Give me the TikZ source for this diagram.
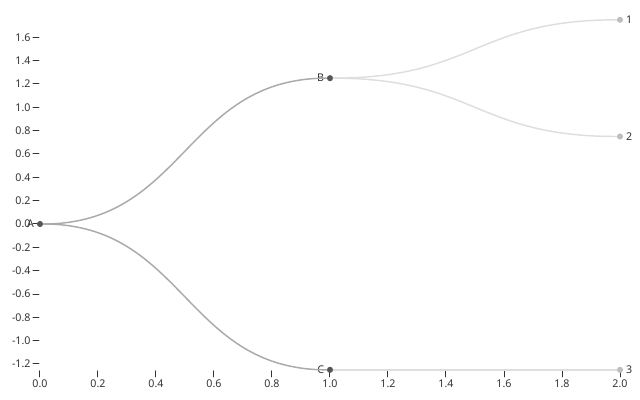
\documentclass[tikz,border=0pt]{standalone}
\usepackage{fontspec}
\setmainfont{Noto Sans}
\usetikzlibrary{calc}
\definecolor{linkInner}{RGB}{170,170,170}
\definecolor{linkOuter}{RGB}{222,222,222}
\definecolor{dotInner}{RGB}{85,85,85}
\definecolor{dotLeaf}{RGB}{190,190,190}
\definecolor{axisInk}{RGB}{51,51,51}

\begin{document}
\begin{tikzpicture}[
    x=217.5pt,y=87.5pt,
    line cap=round,
    line join=round,
    every node/.style={font=\fontsize{8pt}{9.6pt}\selectfont,text=axisInk},
    vdot/.style={circle,inner sep=0pt,minimum size=4.6pt},
    vbranch/.style={vdot,fill=dotInner},
    vleaf/.style={vdot,fill=dotLeaf},
    nlab/.style={inner sep=1.8pt},
    link/.style={line width=1.1pt},
    tick/.style={draw=axisInk,line width=0.75pt},
    ticklab/.style={inner sep=0pt}
]

\useasboundingbox (-0.13793,-1.50857) rectangle (2.06897,1.92);

% ============================================================
% axes
% ============================================================

\foreach \v [count=\i] in {-1.2,-1.0,-0.8,-0.6,-0.4,-0.2,0.0,0.2,0.4,0.6,0.8,1.0,1.2,1.4,1.6}{
    \draw[tick] (0,\v) ++(-5.25pt,0) -- ++(4.5pt,0);
    \node[ticklab,anchor=east] (ytl\i) at ([xshift=-6.9pt]0,\v) {\v};
}

\foreach \v [count=\i] in {0.0,0.2,0.4,0.6,0.8,1.0,1.2,1.4,1.6,1.8,2.0}{
    \draw[tick] (\v,-1.25) ++(0,-0.75pt) -- ++(0,-4.5pt);
    \node[ticklab,anchor=north] (xtl\i) at ([yshift=-7.2pt]\v,-1.25) {\v};
}

% ============================================================
% tree
% ============================================================

\newcommand{\TreeLink}[3]{%
    \coordinate (#1#2mid) at ($(#1)!0.5!(#2)$);
    \draw[link,draw=#3]
        (#1) .. controls (#1 -| #1#2mid) and (#2 -| #1#2mid) .. (#2);
}

\node[vbranch,label={[nlab]left:A}] (A) at (0,0) {};
\node[vbranch,label={[nlab]left:B}] (B) at (1,1.25) {};
\node[vbranch,label={[nlab]left:C}] (C) at (1,-1.25) {};
\node[vleaf,label={[nlab]right:1}] (L1) at (2,1.75) {};
\node[vleaf,label={[nlab]right:2}] (L2) at (2,0.75) {};
\node[vleaf,label={[nlab]right:3}] (L3) at (2,-1.25) {};

\TreeLink{A}{B}{linkInner}
\TreeLink{A}{C}{linkInner}
\TreeLink{B}{L1}{linkOuter}
\TreeLink{B}{L2}{linkOuter}
\TreeLink{C}{L3}{linkOuter}

\end{tikzpicture}
\end{document}
